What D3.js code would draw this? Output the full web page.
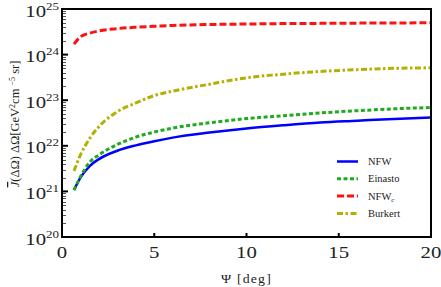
<!DOCTYPE html>
<html>
<head>
<meta charset="utf-8">
<script src="https://cdn.jsdelivr.net/npm/d3@7"></script>
<style>
  body { margin: 0; background: #fff; }
  svg { display: block; }
</style>
</head>
<body>
<div id="chart"></div>
<script>
// Opening angle (deg) at which the curves were read
const psi = [0.65, 1, 1.5, 2, 3, 4, 5, 6, 8, 10, 12, 14, 16, 18, 20];

// J-bar * dOmega for each profile [GeV^2 cm^-5 sr]
const nfw     = [1.07e21, 2.0e21, 3.6e21, 5.1e21, 7.8e21, 1.02e22, 1.26e22, 1.51e22, 1.95e22, 2.4e22, 2.82e22, 3.24e22, 3.55e22, 3.89e22, 4.17e22];
const einasto = [1.07e21, 2.09e21, 4.37e21, 6.3e21, 1.07e22, 1.55e22, 2.0e22, 2.45e22, 3.2e22, 3.95e22, 4.57e22, 5.25e22, 5.89e22, 6.46e22, 6.92e22];
const nfwC    = [1.7e24, 2.45e24, 2.95e24, 3.31e24, 3.72e24, 3.98e24, 4.17e24, 4.37e24, 4.57e24, 4.68e24, 4.79e24, 4.84e24, 4.9e24, 4.93e24, 5.0e24];
const burkert = [2.82e21, 6.3e21, 1.45e22, 2.63e22, 5.6e22, 8.7e22, 1.26e23, 1.58e23, 2.24e23, 3.09e23, 3.72e23, 4.27e23, 4.68e23, 5.0e23, 5.13e23];

const xTicks = [0, 5, 10, 15, 20];
const yExponents = [20, 21, 22, 23, 24, 25];

const series = [
    { name: "NFW", sub: null, values: nfw, color: "#0000ff", dash: null, width: 2.5 },
    { name: "Einasto", sub: null, values: einasto, color: "#1faa1f", dash: "4,2.5", width: 3 },
    { name: "NFW", sub: "c", values: nfwC, color: "#ff1111", dash: "7,3", width: 3 },
    { name: "Burkert", sub: null, values: burkert, color: "#b2b000", dash: "6,2.5,2.5,2.5", width: 3 }
];

const W = 441, H = 287;
const margin = { top: 9, right: 10, bottom: 50, left: 62 };
const stretch = 1.3; // the reference text is wider than it is tall
const serif = "'Liberation Serif', 'Times New Roman', serif";

const svg = d3.select('#chart').append('svg')
    .attr('width', W)
    .attr('height', H)
    .attr('font-family', serif)
    .style('font-family', serif);

const x = d3.scaleLinear().domain([0, 20]).range([margin.left, W - margin.right]);
const y = d3.scaleLog().domain([1e20, 1e25]).range([H - margin.bottom, margin.top]);

// minor + major ticks on the left edge (inside)
const minor = [];
for (let e = 20; e < 25; e++) {
    for (let m = 2; m <= 9; m++) minor.push(m * Math.pow(10, e));
}
svg.append('g').selectAll('line.minor')
    .data(minor)
    .enter().append('line')
    .attr('x1', margin.left).attr('x2', margin.left + 4)
    .attr('y1', d => Math.round(y(d)) + 0.5).attr('y2', d => Math.round(y(d)) + 0.5)
    .attr('stroke', '#555').attr('stroke-width', 1);

svg.append('g').selectAll('line.major')
    .data(yExponents)
    .enter().append('line')
    .attr('x1', margin.left).attr('x2', margin.left + 6)
    .attr('y1', d => y(Math.pow(10, d))).attr('y2', d => y(Math.pow(10, d)))
    .attr('stroke', '#000').attr('stroke-width', 2);

// x ticks (inside, pointing up)
svg.append('g').selectAll('line')
    .data(xTicks.slice(1, -1))
    .enter().append('line')
    .attr('x1', d => x(d)).attr('x2', d => x(d))
    .attr('y1', H - margin.bottom).attr('y2', H - margin.bottom - 4)
    .attr('stroke', '#000').attr('stroke-width', 2);

// y tick labels 10^n
const yl = svg.append('g').selectAll('g')
    .data(yExponents)
    .enter().append('g')
    .attr('transform', d => `translate(59,${y(Math.pow(10, d)) + 7.5}) scale(${stretch},1)`);
const ylt = yl.append('text')
    .attr('text-anchor', 'end')
    .attr('fill', '#222')
    .style('font-size', '16px');
ylt.append('tspan').text('10');
ylt.append('tspan')
    .attr('dy', -7)
    .style('font-size', '10px')
    .text(d => d);

// x tick labels
svg.append('g').selectAll('text')
    .data(xTicks)
    .enter().append('text')
    .attr('transform', d => `translate(${x(d)},258) scale(${stretch},1)`)
    .attr('text-anchor', 'middle')
    .attr('fill', '#222')
    .style('font-size', '16px')
    .text(d => d);

// axis titles
svg.append('text')
    .attr('transform', `translate(${(margin.left + W - margin.right) / 2},283) scale(1.15,1)`)
    .attr('text-anchor', 'middle')
    .attr('fill', '#222')
    .style('font-size', '12px')
    .style('letter-spacing', '1px')
    .text('Ψ [deg]');

const ytitle = svg.append('text')
    .attr('transform', `translate(19,124) rotate(-90)`)
    .attr('text-anchor', 'middle')
    .attr('fill', '#222')
    .style('font-size', '12.5px');
ytitle.append('tspan').style('font-style', 'italic').style('text-decoration', 'overline').text('J');
ytitle.append('tspan').text('(ΔΩ) ΔΩ[GeV');
ytitle.append('tspan').attr('dy', -4).style('font-size', '8px').text('2');
ytitle.append('tspan').attr('dy', 4).text('cm ');
ytitle.append('tspan').attr('dy', -4).style('font-size', '8px').text('−5');
ytitle.append('tspan').attr('dy', 4).text(' sr]');

// curves
const line = d3.line()
    .x((d, i) => x(psi[i]))
    .y(d => y(d))
    .curve(d3.curveMonotoneX);

svg.append('g').selectAll('path')
    .data(series)
    .enter().append('path')
    .attr('d', d => line(d.values))
    .attr('fill', 'none')
    .attr('stroke', d => d.color)
    .attr('stroke-width', d => d.width)
    .attr('stroke-dasharray', d => d.dash);

// frame
svg.append('rect')
    .attr('x', margin.left).attr('y', margin.top)
    .attr('width', W - margin.left - margin.right)
    .attr('height', H - margin.top - margin.bottom)
    .attr('fill', 'none')
    .attr('stroke', '#000')
    .attr('stroke-width', 2);

// legend
const legend = svg.append('g').selectAll('g')
    .data(series)
    .enter().append('g')
    .attr('transform', (d, i) => `translate(337,${161.5 + i * 17.3})`);

legend.append('line')
    .attr('x1', 0).attr('x2', 21)
    .attr('stroke', d => d.color)
    .attr('stroke-width', d => d.width)
    .attr('stroke-dasharray', d => d.dash);

const lt = legend.append('text')
    .attr('x', 31).attr('y', 3.5)
    .attr('fill', '#222')
    .style('font-size', '10.5px');
lt.append('tspan').text(d => d.name);
lt.filter(d => d.sub).append('tspan')
    .attr('dy', 2.5)
    .style('font-size', '7px')
    .style('font-style', 'italic')
    .text(d => d.sub);
</script>
</body>
</html>
